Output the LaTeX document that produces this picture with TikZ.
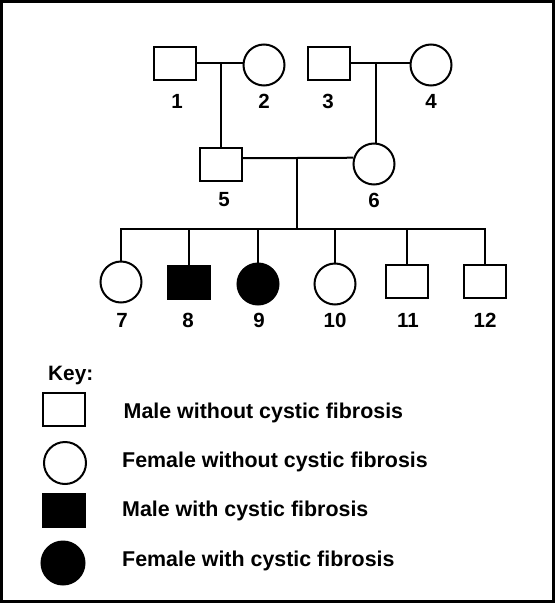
\documentclass[tikz,border=0pt]{standalone}
\usepackage{fontspec}
\setmainfont{Liberation Sans}
\begin{document}
\begin{tikzpicture}[x=1pt,y=-1pt,
  male/.style={draw,line width=2pt,minimum width=42pt,minimum height=33pt,inner sep=0pt,fill=white},
  female/.style={draw,circle,line width=2pt,minimum size=41pt,inner sep=0pt,fill=white},
  aff/.style={fill=black},
  lbl/.style={font=\fontsize{20.5}{21}\selectfont\bfseries,inner sep=0pt},
  keytxt/.style={font=\fontsize{21.4}{22}\selectfont\bfseries,inner sep=0pt,anchor=base west},
  conn/.style={line width=2pt}]
\useasboundingbox (0,0) rectangle (558,605);
\draw[line width=3pt] (1.5,1) rectangle (553.5,601.8);
% generation I
\node[male] (p1) at (175,63) {};
\node[female] (p2) at (264,65) {};
\node[male] (p3) at (329,63) {};
\node[female] (p4) at (431,65) {};
% generation II
\node[male] (p5) at (221,164) {};
\node[female] (p6) at (374,164) {};
% generation III
\node[female] (p7) at (121,282) {};
\node[male,aff] (p8) at (189,282) {};
\node[female,aff] (p9) at (258,284) {};
\node[female] (p10) at (335,284) {};
\node[male] (p11) at (407,281) {};
\node[male] (p12) at (485,281) {};
% labels
\node[lbl] (l1) at (177,101) {1};
\node[lbl] (l2) at (264,101) {2};
\node[lbl] (l3) at (328,101) {3};
\node[lbl] (l4) at (431,101) {4};
\node[lbl] (l5) at (224,200) {5};
\node[lbl] (l6) at (374,200) {6};
\node[lbl] (l7) at (122,320) {7};
\node[lbl] (l8) at (188,320) {8};
\node[lbl] (l9) at (259,320) {9};
\node[lbl] (l10) at (335,320) {10};
\node[lbl] (l11) at (408,320) {11};
\node[lbl] (l12) at (485,320) {12};
% connectors
\coordinate (m12) at (221,63);
\coordinate (m34) at (376,63);
\coordinate (m56) at (297,158);
\coordinate (sib) at (297,229);
\draw[conn] (p1.east) -- (m12) -- (p2.west |- m12);
\draw[conn] (m12) -- (p5.north);
\draw[conn] (p3.east) -- (m34) -- (p4.west |- m34);
\draw[conn] (m34) -- (m34 |- p6.north);
\draw[conn] (p5.east |- m56) -- (m56) -- (p6.163);
\draw[conn] (m56) -- (sib);
\draw[conn] (p7.north) -- (p7.north |- sib) -- (p12.north |- sib) -- (p12.north);
\draw[conn] (p8.north) -- (p8.north |- sib);
\draw[conn] (p9.north) -- (p9.north |- sib);
\draw[conn] (p10.north) -- (p10.north |- sib);
\draw[conn] (p11.north) -- (p11.north |- sib);
% key
\node[keytxt,font=\fontsize{20.8}{22}\selectfont\bfseries] (key) at (48,380) {Key:};
\node[male] (k1) at (64,409) {};
\node[female,minimum size=42pt] (k2) at (65,463) {};
\node[male,aff] (k3) at (63.5,510) {};
\node[female,aff,minimum size=43pt] (k4) at (63,563) {};
\node[keytxt] (t1) at (123.5,418) {Male without cystic fibrosis};
\node[keytxt] (t2) at (122,467) {Female without cystic fibrosis};
\node[keytxt] (t3) at (122,516) {Male with cystic fibrosis};
\node[keytxt] (t4) at (122,566) {Female with cystic fibrosis};
\end{tikzpicture}
\end{document}
